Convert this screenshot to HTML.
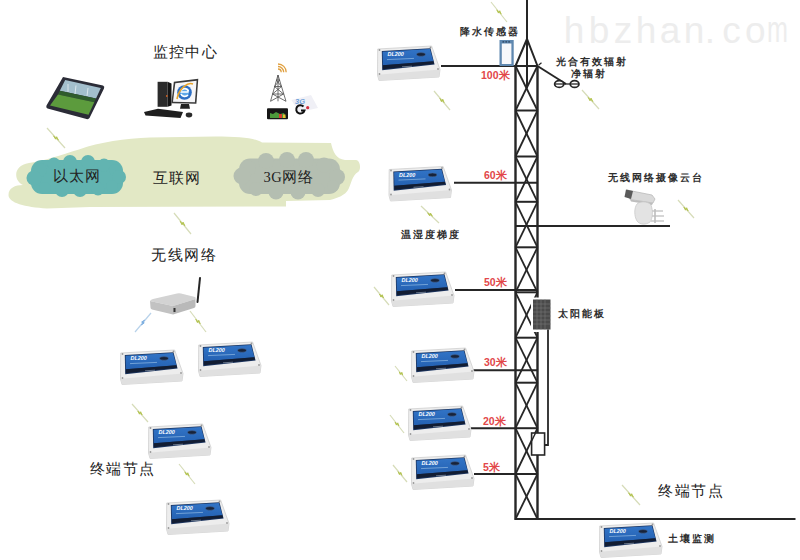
<!DOCTYPE html>
<html><head><meta charset="utf-8"><style>
html,body{margin:0;padding:0;background:#fff;}
svg{display:block;}
.sf{font-family:"Liberation Serif",serif;}
.ss{font-family:"Liberation Sans",sans-serif;}
</style></head><body>
<svg width="800" height="560" viewBox="0 0 800 560">
<defs>
<linearGradient id="bl" x1="0" y1="0" x2="0" y2="1">
<stop offset="0" stop-color="#3274c6"/><stop offset="1" stop-color="#2461b2"/></linearGradient>
<g id="dev">
 <path d="M1.7,4 L55.6,1 L64,24.5 L63,32 L3,35.5 L1.5,30 Z" fill="#ededed" stroke="#cfcfcf" stroke-width="0.8"/>
 <path d="M1.7,29.7 L63.6,24.5 L63,32 L3,35.5 Z" fill="#e0e0e0"/>
 <path d="M5.8,6 L54.5,3.2 L58.6,19.6 L6.2,25.2 Z" fill="#1c3560"/>
 <path d="M6.6,6.8 L53.9,4.1 L57.4,16.2 L6.9,20.2 Z" fill="url(#bl)"/>
 <path d="M6.9,20.2 L57.4,16.2 L58,18.8 L6.9,24.3 Z" fill="#121d33"/>
 <text x="11.5" y="11.3" font-family="Liberation Sans" font-style="italic" font-weight="bold" font-size="5.4" fill="#fff">DL200</text>
 <line x1="11" y1="14.6" x2="38" y2="13.4" stroke="#8fb9e2" stroke-width="0.7"/><line x1="26" y1="21.8" x2="36" y2="21.2" stroke="#7f8da0" stroke-width="0.8"/>
 <ellipse cx="45" cy="9.4" rx="4.4" ry="1.8" fill="#17233a" stroke="#4a6a9a" stroke-width="0.5"/>
 <circle cx="3.5" cy="5" r="0.9" fill="#999"/><circle cx="54.5" cy="2.5" r="0.9" fill="#999"/>
 <circle cx="3.5" cy="29" r="0.9" fill="#999"/><circle cx="62" cy="24" r="0.9" fill="#999"/>
</g>
</defs>
<g font-family="Liberation Sans" font-size="37" fill="#ededed" text-anchor="middle"><text x="574" y="42.5">h</text><text x="599" y="42.5">b</text><text x="623" y="42.5">z</text><text x="646" y="42.5">h</text><text x="670" y="42.5">a</text><text x="694" y="42.5">n</text><text x="710" y="42.5">.</text><text x="731.6" y="42.5">c</text><text x="755.3" y="42.5">o</text><text x="0" y="42.5" transform="translate(777.5,0) scale(0.68,1)">m</text></g>
<path d="M8.5,195 C8.5,188 15,185 23,185 C14,181 12,166 29,163 C45,161 60,155 79,149.5 C100,142 125,138.5 150,137.5 L215,136.5 C240,136.5 255,138 262,142.5 L331,143 C333,152 336,159 345,160 L356,160 C361,161 361,170 358,172 C352,175 351,185 348,190 C345,195 338,198 330,200 L286,201 L286,206.5 L90,207 L47,208.5 C25,207 8.5,203 8.5,195 Z" fill="#e2e8c5"/>
<rect x="31" y="160" width="92" height="34" rx="11" fill="#62b4b1"/>
<g fill="#62b4b1"><ellipse cx="76" cy="177" rx="46" ry="15"/><circle cx="40" cy="170" r="7"/><circle cx="54" cy="164" r="6.5"/><circle cx="70" cy="162" r="7"/><circle cx="88" cy="162" r="7"/><circle cx="104" cy="165" r="6.5"/><circle cx="115" cy="170" r="6"/><circle cx="119" cy="177" r="7"/><circle cx="34" cy="178" r="7.5"/><circle cx="45" cy="188" r="6"/><circle cx="62" cy="190" r="7"/><circle cx="80" cy="190" r="7"/><circle cx="98" cy="189" r="6.5"/><circle cx="112" cy="186" r="6"/></g>
<rect x="239" y="158.5" width="101" height="35.5" rx="11" fill="#b4beb1"/>
<g fill="#b4beb1"><ellipse cx="289" cy="176" rx="52" ry="16"/><circle cx="248" cy="168" r="8"/><circle cx="266" cy="161" r="8"/><circle cx="287" cy="160" r="8"/><circle cx="306" cy="160" r="8"/><circle cx="324" cy="165" r="7.5"/><circle cx="337" cy="177" r="8"/><circle cx="242" cy="176" r="8.5"/><circle cx="256" cy="189" r="7"/><circle cx="276" cy="192" r="7.5"/><circle cx="298" cy="192" r="7.5"/><circle cx="318" cy="190" r="7"/><circle cx="333" cy="186" r="6"/></g>
<text x="52.5" y="181" font-family="Liberation Serif" font-weight="500" fill="#222" font-size="14.5" letter-spacing="1.3">以太网</text>
<text x="152.5" y="182.5" font-family="Liberation Serif" font-weight="500" fill="#222" font-size="14.5" letter-spacing="1.3">互联网</text>
<text x="263.5" y="181.5" font-family="Liberation Serif" font-weight="500" fill="#222" font-size="14.5" letter-spacing="0.5">3G网络</text>
<text x="153" y="57" font-family="Liberation Serif" font-weight="500" fill="#222" font-size="14.5" letter-spacing="1.2">监控中心</text>
<text x="151" y="260" font-family="Liberation Serif" font-weight="500" fill="#222" font-size="14.5" letter-spacing="1.5">无线网络</text>
<text x="89.5" y="474" font-family="Liberation Serif" font-weight="500" fill="#222" font-size="14.5" letter-spacing="1.5">终端节点</text>
<text x="658" y="496" font-family="Liberation Serif" font-weight="500" fill="#222" font-size="14.5" letter-spacing="1.5">终端节点</text>
<path d="M63,77 L103,85.5 Q105,86.5 104,88.5 L89.5,118 Q88.5,119.5 86.5,119 L47.5,108.5 Q45.5,107.5 46.5,105.5 Z" fill="#2b2c37"/>
<path d="M65.2,80 L100.8,88 L96,98.5 L59.8,90.8 Z" fill="#a3bfcd"/>
<path d="M59.8,90.8 L96,98.5 L94.3,102.2 L58,94.6 Z" fill="#2f5c2d"/>
<path d="M58,94.6 L94.3,102.2 L88.5,114.8 L50,105.5 Z" fill="#5c9b3d"/>
<path d="M68,84 L68,92 M76,85.5 L75,94 M88,88 L87,96" stroke="#e8f0f4" stroke-width="0.8"/>
<rect x="157.6" y="81.8" width="10" height="25" fill="#2b2b2b"/>
<path d="M167.6,81.8 L171.5,83.5 L171.5,105.5 L167.6,106.8 Z" fill="#151515"/>
<circle cx="166.8" cy="96" r="0.9" fill="#d06020"/>
<path d="M173.8,81.8 L198.3,78.8 L196.4,103.8 L171.4,103.3 Z" fill="#3a3a3a"/>
<path d="M175.3,83.3 L196.6,80.7 L194.9,102.2 L173,101.8 Z" fill="#f6f6f8"/>
<circle cx="184.5" cy="92.5" r="7.3" fill="#2d6fc4"/>
<circle cx="184.5" cy="92.5" r="4.5" fill="#5fa8e8"/>
<path d="M180.5,92 H188.5 M181,90.5 A4,3.5 0 0 1 188.5,91.5 M181,94 A4,3.5 0 0 0 188,95" stroke="#fff" stroke-width="1.6" fill="none"/>
<path d="M177,99 C179,88 188,82 193,84" stroke="#e8a42a" stroke-width="1.6" fill="none"/>
<path d="M181,104 L189,104 L190,108.7 L180,108.7 Z" fill="#222"/>
<path d="M144,112 L158,108.7 L183,112 L180.5,118 L145.5,115.5 Z" fill="#1f1f1f"/>
<ellipse cx="189" cy="115" rx="3.3" ry="2.4" fill="#2a2a2a"/>
<path d="M278,75 L270.5,101.3 M278,75 L286,101.3 M278,75 L278,101.3 M272.5,94 L283.5,94 M274.5,86.5 L281.5,86.5 M276.2,80 L279.8,80 M272.5,94 L281.5,86.5 M283.5,94 L274.5,86.5 M274.5,86.5 L279.8,80 M281.5,86.5 L276.2,80 M270.5,101.3 L283.5,94 M286,101.3 L272.5,94" stroke="#4a4a4a" stroke-width="0.8" fill="none"/>
<path d="M278,69 A3.2,3.2 0 0 1 281.2,72.2 M278,66.5 A5.7,5.7 0 0 1 283.7,72.2 M278,64 A8.2,8.2 0 0 1 286.2,72.2" stroke="#e0a040" stroke-width="1.3" fill="none"/>
<rect x="267" y="108.3" width="21" height="11" rx="1" fill="#161616"/>
<path d="M270,118 L270,113 L273,114 L276,112 L280,114 L284,113 L286,118 Z" fill="#4c9a3c"/>
<rect x="279" y="114" width="3" height="4" fill="#d83a30"/><rect x="283" y="114.5" width="2.5" height="3.5" fill="#e8c030"/>
<path d="M291.4,100 L311,94.9 L318,108 L299,112.3 Z" fill="#f0f0f6"/>
<text x="295" y="104.3" font-family="Liberation Sans" font-style="italic" font-weight="bold" font-size="7.5" fill="#6f9fd8">3G</text>
<path d="M303.5,106.5 A4.2,4.2 0 1 0 304.5,110.5 L301,110.5" stroke="#111" stroke-width="2" fill="none"/>
<circle cx="307.7" cy="107.7" r="1.6" fill="#d43040"/>
<path d="M150,301 Q151,299.5 153,299 L177,293.5 Q179,293 181,293.5 L195,297 Q196.5,298 195.5,299 L173,306 Z" fill="#d3d3d3"/>
<path d="M150,301 L173,306 L173,314.5 L152,309.5 Q150.5,309 150.5,307.5 Z" fill="#c2c2c2"/>
<path d="M173,306 L195.5,299 L195.5,306 Q195.5,307.5 194,308 L173,314.5 Z" fill="#b9b9b9"/>
<rect x="173.5" y="308" width="2" height="4" fill="#333"/>
<line x1="200" y1="278" x2="197.5" y2="302" stroke="#262626" stroke-width="2" stroke-linecap="round"/>
<line x1="515.5" y1="66" x2="515.5" y2="520" stroke="#262626" stroke-width="2.4"/>
<line x1="537.5" y1="66" x2="537.5" y2="520" stroke="#262626" stroke-width="2.4"/>
<line x1="515.5" y1="66" x2="537.5" y2="66" stroke="#262626" stroke-width="2"/>
<line x1="515.5" y1="110.5" x2="537.5" y2="110.5" stroke="#262626" stroke-width="2"/>
<line x1="515.5" y1="156.5" x2="537.5" y2="156.5" stroke="#262626" stroke-width="2"/>
<line x1="515.5" y1="201.8" x2="537.5" y2="201.8" stroke="#262626" stroke-width="2"/>
<line x1="515.5" y1="247.3" x2="537.5" y2="247.3" stroke="#262626" stroke-width="2"/>
<line x1="515.5" y1="292.3" x2="537.5" y2="292.3" stroke="#262626" stroke-width="2"/>
<line x1="515.5" y1="337.7" x2="537.5" y2="337.7" stroke="#262626" stroke-width="2"/>
<line x1="515.5" y1="382.7" x2="537.5" y2="382.7" stroke="#262626" stroke-width="2"/>
<line x1="515.5" y1="428.2" x2="537.5" y2="428.2" stroke="#262626" stroke-width="2"/>
<line x1="515.5" y1="474" x2="537.5" y2="474" stroke="#262626" stroke-width="2"/>
<line x1="515.5" y1="519" x2="537.5" y2="519" stroke="#262626" stroke-width="2"/>
<line x1="515.5" y1="66" x2="537.5" y2="110.5" stroke="#262626" stroke-width="1.8"/>
<line x1="537.5" y1="66" x2="515.5" y2="110.5" stroke="#262626" stroke-width="1.8"/>
<line x1="515.5" y1="110.5" x2="537.5" y2="156.5" stroke="#262626" stroke-width="1.8"/>
<line x1="537.5" y1="110.5" x2="515.5" y2="156.5" stroke="#262626" stroke-width="1.8"/>
<line x1="515.5" y1="156.5" x2="537.5" y2="201.8" stroke="#262626" stroke-width="1.8"/>
<line x1="537.5" y1="156.5" x2="515.5" y2="201.8" stroke="#262626" stroke-width="1.8"/>
<line x1="515.5" y1="201.8" x2="537.5" y2="247.3" stroke="#262626" stroke-width="1.8"/>
<line x1="537.5" y1="201.8" x2="515.5" y2="247.3" stroke="#262626" stroke-width="1.8"/>
<line x1="515.5" y1="247.3" x2="537.5" y2="292.3" stroke="#262626" stroke-width="1.8"/>
<line x1="537.5" y1="247.3" x2="515.5" y2="292.3" stroke="#262626" stroke-width="1.8"/>
<line x1="515.5" y1="292.3" x2="537.5" y2="337.7" stroke="#262626" stroke-width="1.8"/>
<line x1="537.5" y1="292.3" x2="515.5" y2="337.7" stroke="#262626" stroke-width="1.8"/>
<line x1="515.5" y1="337.7" x2="537.5" y2="382.7" stroke="#262626" stroke-width="1.8"/>
<line x1="537.5" y1="337.7" x2="515.5" y2="382.7" stroke="#262626" stroke-width="1.8"/>
<line x1="515.5" y1="382.7" x2="537.5" y2="428.2" stroke="#262626" stroke-width="1.8"/>
<line x1="537.5" y1="382.7" x2="515.5" y2="428.2" stroke="#262626" stroke-width="1.8"/>
<line x1="515.5" y1="428.2" x2="537.5" y2="474" stroke="#262626" stroke-width="1.8"/>
<line x1="537.5" y1="428.2" x2="515.5" y2="474" stroke="#262626" stroke-width="1.8"/>
<line x1="515.5" y1="474" x2="537.5" y2="519" stroke="#262626" stroke-width="1.8"/>
<line x1="537.5" y1="474" x2="515.5" y2="519" stroke="#262626" stroke-width="1.8"/>
<line x1="527" y1="0" x2="527" y2="88" stroke="#262626" stroke-width="2"/>
<path d="M515.5,66 L527,39 L537.5,66" stroke="#262626" stroke-width="2" fill="none"/>
<line x1="441" y1="66" x2="515.5" y2="66" stroke="#262626" stroke-width="2"/>
<line x1="454" y1="182.7" x2="537.5" y2="182.7" stroke="#262626" stroke-width="2"/>
<line x1="455" y1="290" x2="537.5" y2="290" stroke="#262626" stroke-width="2"/>
<line x1="472" y1="370.2" x2="537.5" y2="370.2" stroke="#262626" stroke-width="2"/>
<line x1="471" y1="428.2" x2="515.5" y2="428.2" stroke="#262626" stroke-width="2"/>
<line x1="474" y1="474" x2="515.5" y2="474" stroke="#262626" stroke-width="2"/>
<line x1="515.5" y1="519" x2="795.5" y2="519" stroke="#262626" stroke-width="2"/>
<line x1="515.5" y1="226" x2="670" y2="226" stroke="#262626" stroke-width="2"/>
<line x1="537.5" y1="66" x2="566" y2="84" stroke="#262626" stroke-width="2"/>
<line x1="538.7" y1="65" x2="541.5" y2="62.8" stroke="#262626" stroke-width="1.3"/>
<rect x="499.5" y="40" width="14.2" height="26" fill="#5f88b0"/><rect x="501.8" y="43.5" width="9.6" height="20.5" fill="#f7f8fb"/><path d="M502.5,41.8 H511" stroke="#2b3f5a" stroke-width="1.3" stroke-dasharray="1.6,1.3"/>
<g stroke="#262626" stroke-width="1.7" fill="#fff"><ellipse cx="559.2" cy="84" rx="4.6" ry="3.4"/><ellipse cx="574.6" cy="84" rx="4.4" ry="3.4"/></g>
<line x1="554.5" y1="84" x2="579" y2="84" stroke="#262626" stroke-width="1.3"/>
<rect x="531" y="297.5" width="22" height="34.5" fill="#fff"/>
<rect x="533" y="299.5" width="17.5" height="30" fill="#4a4a4a"/>
<path d="M533,304 H550.5 M533,308 H550.5 M533,312 H550.5 M533,316 H550.5 M533,320 H550.5 M533,324 H550.5 M537,299.5 V329.5 M541,299.5 V329.5 M545,299.5 V329.5" stroke="#777" stroke-width="0.6"/>
<path d="M548,329.5 V445 H542.5" stroke="#262626" stroke-width="1.8" fill="none"/>
<rect x="531.6" y="433" width="13" height="22" fill="#fff" stroke="#262626" stroke-width="1.6"/>
<line x1="531.6" y1="441" x2="535.5" y2="433" stroke="#262626" stroke-width="1.5"/>
<path d="M627,190 L652,195 L655,199 L653,203 L630,199.5 Z" fill="#d9d9d9" stroke="#b5b5b5" stroke-width="0.7"/>
<path d="M626,189.5 L633,191 L631,199 L624.5,197 Z" fill="#5a5a5a"/>
<path d="M630,199.5 L653,203 L652,205 L631,201.5 Z" fill="#bdbdbd"/>
<path d="M637,204 C640,201 648,201 651,205 C653,210 653,218 650,222 C646,225 640,225 637,221 C634,216 634,208 637,204 Z" fill="#e3e3e3" stroke="#c4c4c4" stroke-width="0.7"/>
<path d="M652,211 L663,211 M652,216 L664,216 M651,221 L664,221" stroke="#c9c9c9" stroke-width="1.6"/>
<path d="M655,209 L655,223" stroke="#bdbdbd" stroke-width="1.6"/>
<use href="#dev" x="376" y="45"/>
<use href="#dev" x="387.5" y="165.5"/>
<use href="#dev" x="390" y="271"/>
<use href="#dev" x="410" y="347"/>
<use href="#dev" x="407" y="405"/>
<use href="#dev" x="410" y="454"/>
<use href="#dev" x="598" y="522"/>
<use href="#dev" x="119" y="349"/>
<use href="#dev" x="197" y="341"/>
<use href="#dev" x="147" y="423"/>
<use href="#dev" x="165" y="499"/>
<path d="M47,128 L65,148" stroke="#d6dcb8" stroke-width="1.2" fill="none"/><path d="M53.6,135.8 L55.5,139.2 L56.1,137.2 L58.4,140.2 L56.7,136.7 L55.9,138.8 Z" fill="#b3c34e" stroke="#b3c34e" stroke-width="0.8"/>
<path d="M174,213 L191,234" stroke="#d6dcb8" stroke-width="1.2" fill="none"/><path d="M180.2,221.2 L181.9,224.7 L182.6,222.7 L184.8,225.8 L183.2,222.2 L182.4,224.3 Z" fill="#b3c34e" stroke="#b3c34e" stroke-width="0.8"/>
<path d="M135,332 L151,313" stroke="#b8d2ea" stroke-width="1.2" fill="none"/><path d="M141.3,325.0 L144.2,322.9 L142.2,322.5 L144.7,320.0 L141.6,322.0 L143.8,322.5 Z" fill="#78ace0" stroke="#78ace0" stroke-width="0.8"/>
<path d="M190,311 L206,332" stroke="#d6dcb8" stroke-width="1.2" fill="none"/><path d="M195.8,319.2 L197.4,322.6 L198.2,320.7 L200.2,323.8 L198.8,320.2 L197.8,322.3 Z" fill="#b3c34e" stroke="#b3c34e" stroke-width="0.8"/>
<path d="M132,404 L148,422" stroke="#d6dcb8" stroke-width="1.2" fill="none"/><path d="M137.9,411.0 L139.4,414.2 L140.1,412.2 L142.1,415.0 L140.7,411.7 L139.9,413.8 Z" fill="#b3c34e" stroke="#b3c34e" stroke-width="0.8"/>
<path d="M179,464 L195,484" stroke="#d6dcb8" stroke-width="1.2" fill="none"/><path d="M184.8,471.8 L186.4,475.1 L187.1,473.2 L189.2,476.2 L187.8,472.7 L186.9,474.8 Z" fill="#b3c34e" stroke="#b3c34e" stroke-width="0.8"/>
<path d="M491,2 L507,22" stroke="#d6dcb8" stroke-width="1.2" fill="none"/><path d="M496.8,9.8 L498.4,13.1 L499.1,11.2 L501.2,14.2 L499.8,10.7 L498.9,12.8 Z" fill="#b3c34e" stroke="#b3c34e" stroke-width="0.8"/>
<path d="M434,91 L450,110" stroke="#d6dcb8" stroke-width="1.2" fill="none"/><path d="M439.9,98.4 L441.4,101.7 L442.1,99.7 L444.1,102.6 L442.8,99.2 L441.9,101.3 Z" fill="#b3c34e" stroke="#b3c34e" stroke-width="0.8"/>
<path d="M421,206 L439,223" stroke="#d6dcb8" stroke-width="1.2" fill="none"/><path d="M427.6,212.7 L429.5,215.7 L430.1,213.7 L432.4,216.3 L430.6,213.1 L429.9,215.3 Z" fill="#b3c34e" stroke="#b3c34e" stroke-width="0.8"/>
<path d="M374,287 L389,305" stroke="#d6dcb8" stroke-width="1.2" fill="none"/><path d="M379.5,294.0 L380.9,297.1 L381.7,295.3 L383.5,298.0 L382.3,294.7 L381.3,296.7 Z" fill="#b3c34e" stroke="#b3c34e" stroke-width="0.8"/>
<path d="M395,366 L407,381" stroke="#d6dcb8" stroke-width="1.2" fill="none"/><path d="M399.3,371.9 L400.3,374.5 L401.2,372.8 L402.7,375.1 L401.9,372.3 L400.8,374.2 Z" fill="#b3c34e" stroke="#b3c34e" stroke-width="0.8"/>
<path d="M390,415 L404,433" stroke="#d6dcb8" stroke-width="1.2" fill="none"/><path d="M395.1,422.0 L396.3,425.1 L397.2,423.3 L398.9,426.0 L397.8,422.8 L396.8,424.7 Z" fill="#b3c34e" stroke="#b3c34e" stroke-width="0.8"/>
<path d="M393,465 L407,482" stroke="#d6dcb8" stroke-width="1.2" fill="none"/><path d="M398.1,471.7 L399.4,474.6 L400.2,472.8 L401.9,475.3 L400.8,472.3 L399.8,474.2 Z" fill="#b3c34e" stroke="#b3c34e" stroke-width="0.8"/>
<path d="M582,90 L599,109" stroke="#d6dcb8" stroke-width="1.2" fill="none"/><path d="M588.2,97.4 L589.9,100.7 L590.6,98.7 L592.8,101.6 L591.2,98.2 L590.4,100.3 Z" fill="#b3c34e" stroke="#b3c34e" stroke-width="0.8"/>
<path d="M678,200 L694,218" stroke="#d6dcb8" stroke-width="1.2" fill="none"/><path d="M683.9,207.0 L685.4,210.2 L686.1,208.2 L688.1,211.0 L686.7,207.7 L685.9,209.8 Z" fill="#b3c34e" stroke="#b3c34e" stroke-width="0.8"/>
<path d="M622,485 L640,505" stroke="#d6dcb8" stroke-width="1.2" fill="none"/><path d="M628.6,492.8 L630.5,496.2 L631.1,494.2 L633.4,497.2 L631.7,493.7 L630.9,495.8 Z" fill="#b3c34e" stroke="#b3c34e" stroke-width="0.8"/>
<text x="459.5" y="35" class="ss" font-size="10" letter-spacing="2" font-weight="bold" fill="#2e2e2e">降水传感器</text>
<text x="556" y="65" class="ss" font-size="10" letter-spacing="2" font-weight="bold" fill="#2e2e2e">光合有效辐射</text>
<text x="570.5" y="76.5" class="ss" font-size="10" letter-spacing="2" font-weight="bold" fill="#2e2e2e">净辐射</text>
<text x="401" y="238" class="ss" font-size="10" letter-spacing="2" font-weight="bold" fill="#2e2e2e">温湿度梯度</text>
<text x="558" y="317" class="ss" font-size="10" letter-spacing="2" font-weight="bold" fill="#2e2e2e">太阳能板</text>
<text x="607.5" y="181" class="ss" font-size="10" letter-spacing="2" font-weight="bold" fill="#2e2e2e">无线网络摄像云台</text>
<text x="667.5" y="542" class="ss" font-size="10" letter-spacing="2" font-weight="bold" fill="#2e2e2e">土壤监测</text>
<text x="481" y="79" class="ss" font-size="10.5" font-weight="bold" fill="#e2474a">100米</text>
<text x="484" y="178.5" class="ss" font-size="10.5" font-weight="bold" fill="#e2474a">60米</text>
<text x="484" y="285.5" class="ss" font-size="10.5" font-weight="bold" fill="#e2474a">50米</text>
<text x="484" y="365.5" class="ss" font-size="10.5" font-weight="bold" fill="#e2474a">30米</text>
<text x="483" y="425" class="ss" font-size="10.5" font-weight="bold" fill="#e2474a">20米</text>
<text x="483" y="471" class="ss" font-size="10.5" font-weight="bold" fill="#e2474a">5米</text>
</svg>
</body></html>
